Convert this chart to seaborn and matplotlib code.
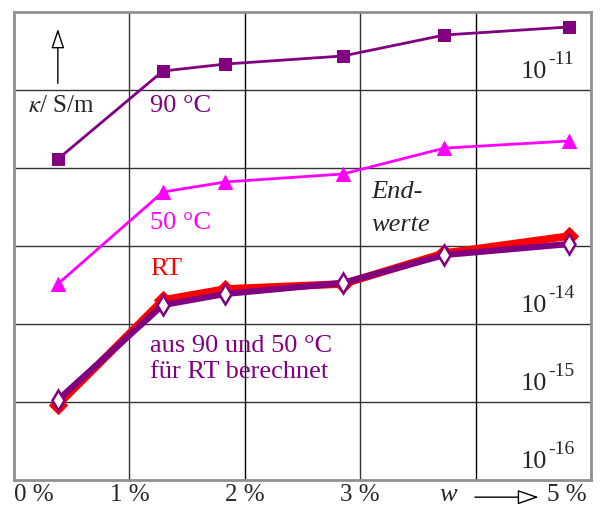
import numpy as np
import pandas as pd
import matplotlib
matplotlib.use("Agg")
import matplotlib.pyplot as plt
import seaborn as sns

# Massenanteil w in %
w = [0.38, 1.29, 1.83, 2.85, 3.73, 4.81]

# Leitfähigkeit kappa in S/m
kappa_90 = [1.30e-12, 1.75e-11, 2.15e-11, 2.73e-11, 5.07e-11, 6.43e-11]
kappa_50 = [3.26e-14, 4.92e-13, 6.62e-13, 8.38e-13, 1.80e-12, 2.22e-12]
kappa_rt = [9.2e-16, 2.03e-14, 2.81e-14, 3.26e-14, 8.1e-14, 1.34e-13]
kappa_calc = [1.06e-15, 1.75e-14, 2.43e-14, 3.36e-14, 7.67e-14, 1.06e-13]

x_ticks = [0, 1, 2, 3, 5]
x_labels = ["0 %", "1 %", "2 %", "3 %", "5 %"]
decades = [-11, -14, -15, -16]

PURPLE = "#800080"
MAGENTA = "#ff00ff"
RED = "#ff0000"

sns.set_style("white")
plt.rcParams["font.family"] = ["Liberation Serif", "DejaVu Serif"]
plt.rcParams["mathtext.fontset"] = "stix"

fig = plt.figure(figsize=(6.03, 5.09), dpi=100)
ax = fig.add_axes([14 / 603, 1 - 480 / 509, 577 / 603, 468 / 509])

df = pd.DataFrame({"w": w, "90": kappa_90, "50": kappa_50,
                   "RT": kappa_rt, "calc": kappa_calc})

sns.lineplot(data=df, x="w", y="RT", ax=ax, color=RED, lw=5.5,
             marker="D", markersize=9, markerfacecolor=RED,
             markeredgecolor=RED, sort=False, zorder=3)
sns.lineplot(data=df, x="w", y="calc", ax=ax, color=PURPLE, lw=4.5,
             marker="d", markersize=10, markerfacecolor="white",
             markeredgecolor=PURPLE, markeredgewidth=1.8, sort=False, zorder=4)
sns.lineplot(data=df, x="w", y="50", ax=ax, color=MAGENTA, lw=2,
             marker="^", markersize=10, markerfacecolor=MAGENTA,
             markeredgecolor=MAGENTA, sort=False, zorder=3)
sns.lineplot(data=df, x="w", y="90", ax=ax, color=PURPLE, lw=2,
             marker="s", markersize=8, markerfacecolor=PURPLE,
             markeredgecolor=PURPLE, sort=False, zorder=3)

ax.set_yscale("log")
ax.set_xlim(0, 5)
ax.set_ylim(1e-16, 1e-10)
ax.set_xlabel("")
ax.set_ylabel("")

# Gitter
for xv in range(1, 5):
    ax.axvline(xv, color="#333333" if xv % 2 else "black", lw=1, zorder=1)
for e in range(-15, -10):
    ax.axhline(10.0 ** e, color="#333333", lw=1, zorder=1)
ax.minorticks_off()
ax.set_yticks([])
ax.set_xticks([])
for s in ax.spines.values():
    s.set_color("#909090")
    s.set_linewidth(2)

# x-Beschriftung
y_lab = 10 ** -16.05
for xt, lab in zip(x_ticks, x_labels):
    ha = "left" if xt == 0 else ("right" if xt == 5 else "center")
    xo = 0.0 if xt == 0 else (-0.04 if xt == 5 else 0)
    ax.text(xt + xo, y_lab, lab, ha=ha, va="top", fontsize=18, clip_on=False)
ax.text(3.76, y_lab, "w", style="italic", ha="center", va="top", fontsize=19)
ax.annotate("", xy=(4.57, 10 ** -16.22), xytext=(3.97, 10 ** -16.22),
            arrowprops=dict(arrowstyle="-|>,head_length=1.3,head_width=0.45",
                            lw=1, color="black", fc="white"),
            annotation_clip=False)

# Dekaden-Beschriftung
for e in decades:
    ax.annotate("10", xy=(4.62, 10.0 ** e), xytext=(0, 5), textcoords="offset points",
                ha="right", va="bottom", fontsize=19, zorder=5)
    ax.annotate("-%d" % abs(e), xy=(4.62, 10.0 ** e), xytext=(1, 16),
                textcoords="offset points", ha="left", va="bottom",
                fontsize=14, zorder=5)

# Achsentitel y
ax.annotate("", xy=(0.38, 10 ** -10.18), xytext=(0.38, 10 ** -10.95),
            arrowprops=dict(arrowstyle="-|>,head_length=1.2,head_width=0.4",
                            lw=1, color="black", fc="white"))
ax.text(0.12, 10 ** -11.2, r"$\kappa$/ S/m", ha="left", va="center", fontsize=18)

# Kurvenbeschriftungen
ax.text(1.18, 10 ** -11.2, "90 °C", color=PURPLE, fontsize=19, ha="left", va="center")
ax.text(1.18, 10 ** -12.7, "50 °C", color=MAGENTA, fontsize=19, ha="left", va="center")
ax.text(1.18, 10 ** -13.3, "RT", color=RED, fontsize=19, ha="left", va="center")
ax.text(1.18, 10 ** -14.45, "aus 90 und 50 °C\nfür RT berechnet", color=PURPLE,
        fontsize=19, ha="left", va="center", linespacing=1.2)
ax.text(3.1, 10 ** -12.52, "End-\nwerte", fontsize=19, style="italic",
        ha="left", va="center", linespacing=1.6)

fig.savefig("out.png", dpi=100)
